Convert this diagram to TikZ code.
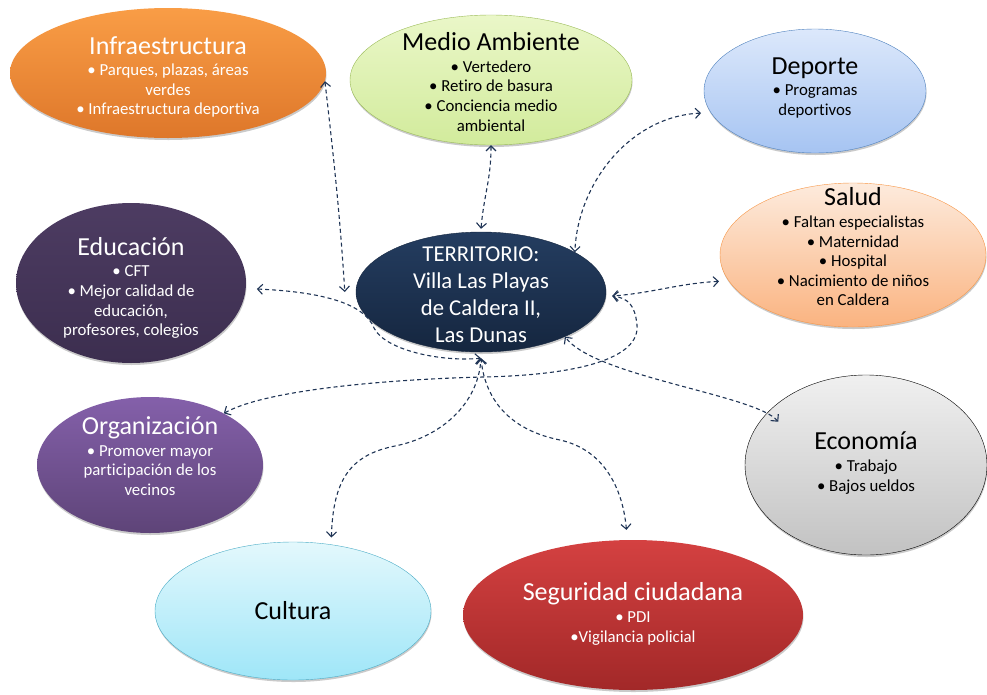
\documentclass[tikz,border=0pt]{standalone}
\usepackage{fontspec}
\setmainfont{Carlito}[Ligatures={NoCommon}]
\usetikzlibrary{shapes.geometric,arrows.meta,shadows}
\definecolor{linkc}{HTML}{1F3455}
\definecolor{infraT}{HTML}{F99D46}\definecolor{infraB}{HTML}{DE772A}
\definecolor{medioT}{HTML}{EAF7C8}\definecolor{medioB}{HTML}{D2EB9C}\definecolor{medioD}{HTML}{9BBB59}
\definecolor{depT}{HTML}{DCE8FB}\definecolor{depB}{HTML}{A6C4F2}\definecolor{depD}{HTML}{4F81BD}
\definecolor{salT}{HTML}{FDEBDD}\definecolor{salB}{HTML}{FAB380}\definecolor{salD}{HTML}{F79646}
\definecolor{terT}{HTML}{243D60}\definecolor{terB}{HTML}{15263F}
\definecolor{eduT}{HTML}{4D3C62}\definecolor{eduB}{HTML}{3C2E4F}
\definecolor{orgT}{HTML}{8460AA}\definecolor{orgB}{HTML}{5E4478}
\definecolor{ecoT}{HTML}{F0F0F0}\definecolor{ecoB}{HTML}{C2C2C2}
\definecolor{culT}{HTML}{E3F8FC}\definecolor{culB}{HTML}{9FE6F8}\definecolor{culD}{HTML}{4BACC6}
\definecolor{segT}{HTML}{D44141}\definecolor{segB}{HTML}{A22828}
\newcommand\ttlfont{\fontsize{26}{28}\selectfont}
\begin{document}
\begin{tikzpicture}[x=1pt,y=-1pt,
  bubble/.style={ellipse, inner sep=0pt, draw=none,
    drop shadow={shadow xshift=0.5pt, shadow yshift=-2pt, opacity=0.35, fill=black!60}},
  txt/.style={inner sep=0pt, align=center, font=\fontsize{16.8}{19.6}\selectfont},
  link/.style={draw=linkc, line width=1.1pt, dash pattern=on 4pt off 3pt,
    >={Straight Barb[length=5pt,width=10pt]}, <->}
]
\useasboundingbox (0,0) rectangle (987,694);

% shapes
\node[bubble, top color=infraT, bottom color=infraB, minimum width=316pt, minimum height=130pt] (infra) at (168,73) {};
\node[bubble, top color=medioT, bottom color=medioB, draw=medioD, minimum width=282pt, minimum height=130pt] (medio) at (491,80) {};
\node[bubble, top color=depT, bottom color=depB, draw=depD, minimum width=222pt, minimum height=124pt] (deporte) at (815,91) {};
\node[bubble, top color=salT, bottom color=salB, draw=salD, minimum width=266pt, minimum height=144pt] (salud) at (853,255) {};
\node[bubble, top color=terT, bottom color=terB, draw=terB, minimum width=250pt, minimum height=120pt] (terr) at (481,292) {};
\node[bubble, top color=eduT, bottom color=eduB, minimum width=230pt, minimum height=160pt] (educ) at (131,283) {};
\node[bubble, top color=orgT, bottom color=orgB, minimum width=226pt, minimum height=136pt] (org) at (150,465) {};
\node[bubble, top color=ecoT, bottom color=ecoB, draw=black, minimum width=242pt, minimum height=180pt] (econ) at (866,465) {};
\node[bubble, top color=culT, bottom color=culB, draw=culD, minimum width=276pt, minimum height=138pt] (cult) at (293,611) {};
\node[bubble, top color=segT, bottom color=segB, minimum width=340pt, minimum height=150pt] (seg) at (633,615) {};

% texts
\node[txt, text=white] (infraT) at (168,77) {{\ttlfont Infraestructura}\\[2pt]• Parques, plazas, áreas\\verdes\\• Infraestructura deportiva};
\node[txt] (medioT) at (491,82) {{\ttlfont Medio Ambiente}\\[2pt]• Vertedero\\• Retiro de basura\\• Conciencia medio\\ambiental};
\node[txt] (deporteT) at (815,88) {{\ttlfont Deporte}\\[2pt]• Programas\\deportivos};
\node[txt] (saludT) at (853,247) {{\ttlfont Salud}\\[2pt]• Faltan especialistas\\• Maternidad\\• Hospital\\• Nacimiento de niños\\en Caldera};
\node[txt, text=white, font=\fontsize{22.7}{27}\selectfont] (terrT) at (481,295) {TERRITORIO:\\Villa Las Playas\\de Caldera II,\\Las Dunas};
\node[txt, text=white] (educT) at (131,288) {{\ttlfont Educación}\\[2pt]• CFT\\• Mejor calidad de\\educación,\\profesores, colegios};
\node[txt, text=white] (orgT) at (150,456) {{\ttlfont Organización}\\[2pt]• Promover mayor\\participación de los\\vecinos};
\node[txt] (econT) at (866,463) {{\ttlfont Economía}\\[2pt]• Trabajo\\• Bajos ueldos};
\node[txt] (cultT) at (293,611) {{\ttlfont Cultura}};
\node[txt, text=white] (segT) at (633,614) {{\ttlfont Seguridad ciudadana}\\[2pt]• PDI\\•Vigilancia policial};

% connectors
\draw[link] (medio.south) .. controls +(0,35) and +(3,-35) .. ([yshift=3pt]terr.north);
\draw[link] (infra.-3) .. controls +(8,70) and +(-5,-80) .. ([xshift=-11pt]terr.west);
\draw[link] ([xshift=-10pt]deporte.192) .. controls +(-70,3) and +(3,-70) .. (terr.23);
\draw[link] ([xshift=-10pt]salud.192) .. controls +(-40,2) and +(40,-3) .. ([shift={(6pt,-4pt)}]terr.east);
\draw[link] (org.35) .. controls +(45,-25) and (400,379) .. (483,377)
  .. controls (580,375) and (640,358) .. (637,325)
  .. controls (635,305) and (628,298) .. ([shift={(6pt,-4pt)}]terr.east);
\draw[link] ([xshift=11pt]educ.-3) .. controls +(70,3) and (365,305) .. (374,328)
  .. controls (385,350) and (440,362) .. ([yshift=-6pt]terr.south);
\draw[link] ([yshift=7pt]cult.60) .. controls (333,480) and (350,455) .. (395,446)
  .. controls (440,437) and (478,405) .. ([yshift=-6pt]terr.south);
\draw[link] ([yshift=10pt]seg.95) .. controls (623,490) and (605,450) .. (560,440)
  .. controls (510,430) and (485,400) .. ([yshift=-6pt]terr.south);
\draw[link] ([shift={(8pt,-12pt)}]econ.150) .. controls +(-23,-27) and +(30,40) .. (terr.-28);
\end{tikzpicture}
\end{document}
